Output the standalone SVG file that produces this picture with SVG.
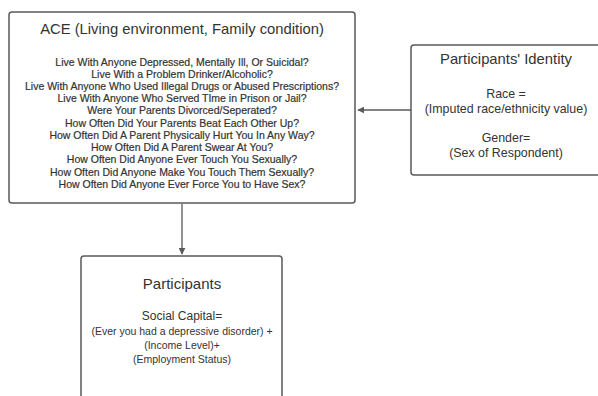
<svg xmlns="http://www.w3.org/2000/svg" width="598" height="396" viewBox="0 0 598 396">
<defs>
<style>
.box{fill:#fff;stroke:#5a5a5a;stroke-width:1.5}
.t{font-family:"Liberation Sans",Arial,sans-serif;fill:#333;text-anchor:middle}
.q{font-size:10.5px;stroke:#333;stroke-width:0.2}
.edge{stroke:#5a5a5a;stroke-width:1.3;fill:none}
</style>
<marker id="ah" viewBox="0 0 10 10" refX="9" refY="5" markerWidth="7" markerHeight="7" orient="auto" markerUnits="userSpaceOnUse">
<path d="M0,0 L10,5 L0,10 z" fill="#5a5a5a"/>
</marker>
</defs>
<rect width="598" height="396" fill="#fff"/>
<g id="connectors">
<line class="edge" x1="411" y1="110" x2="358" y2="110" marker-end="url(#ah)"/>
<line class="edge" x1="182" y1="204" x2="182" y2="254" marker-end="url(#ah)"/>
</g>
<g id="ace">
<rect class="box" x="9" y="12" width="346" height="191" rx="3"/>
<text class="t" x="182" y="34" font-size="14.8">ACE (Living environment, Family condition)</text>
<text class="t q" x="182" y="66">Live With Anyone Depressed, Mentally Ill, Or Suicidal?</text>
<text class="t q" x="182" y="78">Live With a Problem Drinker/Alcoholic?</text>
<text class="t q" x="182" y="90">Live With Anyone Who Used Illegal Drugs or Abused Prescriptions?</text>
<text class="t q" x="182" y="102">Live With Anyone Who Served TIme in Prison or Jail?</text>
<text class="t q" x="182" y="114">Were Your Parents Divorced/Seperated?</text>
<text class="t q" x="182" y="127">How Often Did Your Parents Beat Each Other Up?</text>
<text class="t q" x="182" y="139">How Often Did A Parent Physically Hurt You In Any Way?</text>
<text class="t q" x="182" y="151">How Often Did A Parent Swear At You?</text>
<text class="t q" x="182" y="163">How Often Did Anyone Ever Touch You Sexually?</text>
<text class="t q" x="182" y="176">How Often Did Anyone Make You Touch Them Sexually?</text>
<text class="t q" x="182" y="188">How Often Did Anyone Ever Force You to Have Sex?</text>
</g>
<g id="identity">
<rect class="box" x="411" y="45" width="200" height="130" rx="3"/>
<text class="t" x="506" y="64" font-size="14.8">Participants' Identity</text>
<text class="t" x="506" y="98" font-size="12.4">Race =</text>
<text class="t" x="506" y="113" font-size="12.4">(Imputed race/ethnicity value)</text>
<text class="t" x="506" y="142" font-size="12.4">Gender=</text>
<text class="t" x="506" y="157" font-size="12.4">(Sex of Respondent)</text>
</g>
<g id="participants">
<rect class="box" x="81" y="256" width="201" height="160" rx="3"/>
<text class="t" x="182" y="289" font-size="15">Participants</text>
<text class="t" x="182" y="320" font-size="12">Social Capital=</text>
<text class="t" x="182" y="335" font-size="10.5">(Ever you had a depressive disorder) +</text>
<text class="t" x="182" y="349" font-size="10.5">(Income Level)+</text>
<text class="t" x="182" y="363" font-size="10.5">(Employment Status)</text>
</g>
</svg>
